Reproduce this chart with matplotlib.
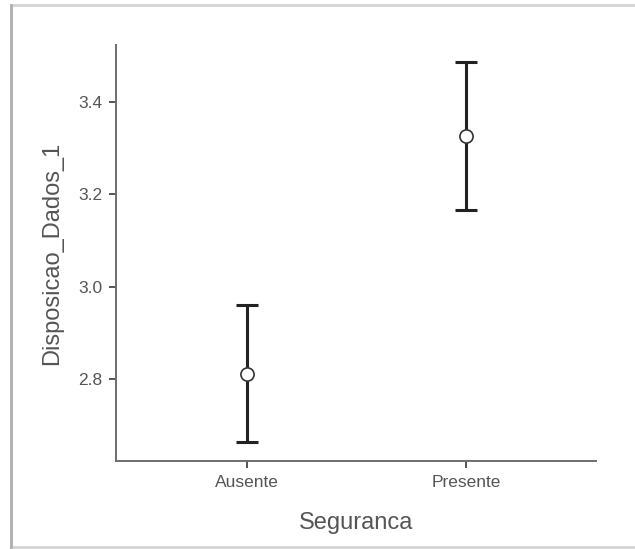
import numpy as np
import matplotlib.pyplot as plt
from matplotlib.patches import Rectangle
from matplotlib.lines import Line2D

# group means and confidence limits
groups = ['Ausente', 'Presente']
means = [2.811, 3.326]
lower = [2.663, 3.167]
upper = [2.960, 3.486]

plt.rcParams['font.family'] = ['Liberation Sans', 'DejaVu Sans']

fig = plt.figure(figsize=(6.35, 5.49), dpi=100)

# light frame around the plot, with a darker left edge
fig.patches.append(Rectangle((11 / 635, 2 / 549), 1.2, 1 - 7 / 549, transform=fig.transFigure,
                             facecolor='white', edgecolor='#d4d4d4', linewidth=2, zorder=-1))
fig.lines.append(Line2D([11 / 635, 11 / 635], [2 / 549, 1 - 5 / 549], transform=fig.transFigure,
                        color='#b0b0b0', linewidth=2))

ax = fig.add_axes([116 / 635, 1 - 461 / 549, 480 / 635, 416 / 549])
ax.set_facecolor('none')

x = np.arange(1, len(groups) + 1)
m = np.array(means)
err = np.array([m - np.array(lower), np.array(upper) - m])
ax.errorbar(x, m, yerr=err, fmt='none', ecolor='#222222', elinewidth=2.2,
            capsize=8, capthick=2.2, zorder=2)
ax.plot(x, m, 'o', markersize=9.5, markerfacecolor='white',
        markeredgecolor='#333333', markeredgewidth=1.2, zorder=3)

ax.set_xlim(0.4, 2.594)
ax.set_ylim(2.6224, 3.5235)
ax.set_xticks(x)
ax.set_xticklabels(groups)
ax.set_yticks([2.8, 3.0, 3.2, 3.4])
ax.set_yticklabels(['2.8', '3.0', '3.2', '3.4'])

for s in ['top', 'right']:
    ax.spines[s].set_visible(False)
for s in ['left', 'bottom']:
    ax.spines[s].set_color('#6e6e6e')
    ax.spines[s].set_linewidth(1.4)

ax.tick_params(axis='both', colors='#555555', labelcolor='#555555', labelsize=12.5,
               length=5, width=1.4)
ax.tick_params(axis='x', pad=5)
ax.tick_params(axis='y', pad=5)

ax.set_xlabel('Seguranca', fontsize=17, color='#555555', labelpad=16)
ax.set_ylabel('Disposicao_Dados_1', fontsize=17, color='#555555', labelpad=11)

fig.savefig('out.png', dpi=100)
